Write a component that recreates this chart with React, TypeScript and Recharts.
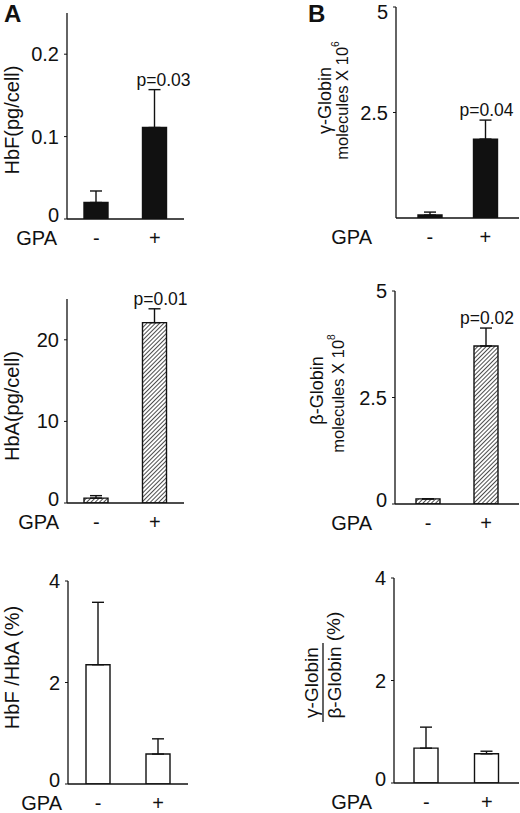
import React from "react";
import { BarChart, Bar, XAxis, YAxis, ErrorBar, LabelList } from "recharts";

const FONT = '"Liberation Sans", Arial, Helvetica, sans-serif';
const INK = "#111";

// categories
const GPA = ["-", "+"];

// A: protein per cell
const HBF_PG = [0.02, 0.111];
const HBF_PG_ERR = [0.014, 0.046];
const HBA_PG = [0.6, 22.1];
const HBA_PG_ERR = [0.3, 1.7];
const HBF_HBA_PCT = [2.35, 0.59];
const HBF_HBA_PCT_ERR = [1.23, 0.3];

// B: globin mRNA molecules
const GAMMA_MOL = [0.07, 1.87];
const GAMMA_MOL_ERR = [0.07, 0.45];
const BETA_MOL = [0.12, 3.71];
const BETA_MOL_ERR = [0, 0.42];
const GAMMA_BETA_PCT = [0.68, 0.57];
const GAMMA_BETA_PCT_ERR = [0.41, 0.05];

const P_HBF = [null, "p=0.03"];
const P_HBA = [null, "p=0.01"];
const P_GAMMA = [null, "p=0.04"];
const P_BETA = [null, "p=0.02"];
const P_NONE = [null, null];

const TICKS_HBF = [0, 0.1, 0.2];
const TICKS_HBA = [0, 10, 20];
const TICKS_PCT = [0, 2, 4];
const TICKS_GAMMA = [2.5, 5];
const TICKS_BETA = [0, 2.5, 5];

const XH = 40; // x axis height

type LabelLine = { text: string; sup?: string; ax: number; dy: number; size: number };

type Panel = {
  left: number;
  plotL: number;
  plotR: number;
  plotT: number;
  plotB: number;
  mr: number;
  values: number[];
  errors: number[];
  pLabels: (string | null)[];
  domain: [number, number];
  ticks: number[];
  topDy: number;
  fill: string;
  pad: number;
  gpaOffset: number;
  pDx: number;
  yLabel: LabelLine[];
  rule?: { ax: number; dy: number; len: number };
};

const PANELS: Panel[] = [
  {
    left: 0, plotL: 67, plotR: 184, plotT: 13, plotB: 219, mr: 40,
    values: HBF_PG, errors: HBF_PG_ERR, pLabels: P_HBF,
    domain: [0, 0.25], ticks: TICKS_HBF, topDy: 0, fill: INK, pad: 0, gpaOffset: 10, pDx: 9,
    yLabel: [{ text: "HbF(pg/cell)", ax: 55, dy: 4, size: 20 }],
  },
  {
    left: 0, plotL: 67, plotR: 184, plotT: 299, plotB: 503, mr: 40,
    values: HBA_PG, errors: HBA_PG_ERR, pLabels: P_HBA,
    domain: [0, 25], ticks: TICKS_HBA, topDy: 0, fill: "url(#hatch)", pad: 0, gpaOffset: 8, pDx: 6,
    yLabel: [{ text: "HbA(pg/cell)", ax: 55, dy: 5, size: 20 }],
  },
  {
    left: 0, plotL: 68, plotR: 188, plotT: 581, plotB: 784, mr: 40,
    values: HBF_HBA_PCT, errors: HBF_HBA_PCT_ERR, pLabels: P_NONE,
    domain: [0, 4], ticks: TICKS_PCT, topDy: 0, fill: "#fff", pad: 0, gpaOffset: 6, pDx: 0,
    yLabel: [{ text: "HbF /HbA (%)", ax: 56, dy: -15, size: 20 }],
  },
  {
    left: 290, plotL: 396, plotR: 519, plotT: 7, plotB: 218, mr: 1,
    values: GAMMA_MOL, errors: GAMMA_MOL_ERR, pLabels: P_GAMMA,
    domain: [0, 5], ticks: TICKS_GAMMA, topDy: 5, fill: INK, pad: 6, gpaOffset: 24, pDx: 1,
    yLabel: [
      { text: "\u03b3-Globin", ax: 71, dy: -12, size: 18 },
      { text: "molecules X 10", sup: "6", ax: 54, dy: -12, size: 16.5 },
    ],
  },
  {
    left: 290, plotL: 395, plotR: 519, plotT: 291, plotB: 504, mr: 1,
    values: BETA_MOL, errors: BETA_MOL_ERR, pLabels: P_BETA,
    domain: [0, 5], ticks: TICKS_BETA, topDy: 0, fill: "url(#hatch)", pad: 4, gpaOffset: 23, pDx: 1,
    yLabel: [
      { text: "\u03b2-Globin", ax: 78, dy: -7, size: 18 },
      { text: "molecules X 10", sup: "8", ax: 57, dy: -4, size: 16.5 },
    ],
  },
  {
    left: 290, plotL: 394, plotR: 519, plotT: 578, plotB: 783, mr: 1,
    values: GAMMA_BETA_PCT, errors: GAMMA_BETA_PCT_ERR, pLabels: P_NONE,
    domain: [0, 4], ticks: TICKS_PCT, topDy: 0, fill: "#fff", pad: 2, gpaOffset: 22, pDx: 0,
    yLabel: [
      { text: "\u03b3-Globin", ax: 83, dy: 2, size: 19 },
      { text: "\u03b2-Globin", ax: 60, dy: 2, size: 19 },
      { text: "(%)", ax: 61, dy: -54, size: 19 },
    ],
    rule: { ax: 71, dy: 2, len: 79 },
  },
];

function YLabel(props: any, s: Panel) {
  const vb = props.viewBox;
  const axisX = vb.x + vb.width;
  const midY = vb.y + vb.height / 2;
  return (
    <g>
      {s.yLabel.map((l, i) => {
        const cx = axisX - l.ax;
        const cy = midY + l.dy;
        return (
          <text
            key={i}
            x={cx}
            y={cy}
            transform={`rotate(-90, ${cx}, ${cy})`}
            textAnchor="middle"
            dominantBaseline="central"
            fontSize={l.size}
            fontFamily={FONT}
            fill={INK}
          >
            {l.text}
            {l.sup && (
              <tspan fontSize={l.size * 0.62} dy={-l.size * 0.45}>
                {l.sup}
              </tspan>
            )}
          </text>
        );
      })}
      {s.rule && (
        <line
          x1={axisX - s.rule.ax}
          x2={axisX - s.rule.ax}
          y1={midY + s.rule.dy - s.rule.len / 2}
          y2={midY + s.rule.dy + s.rule.len / 2}
          stroke={INK}
          strokeWidth={1.3}
        />
      )}
    </g>
  );
}

// y tick labels; the zero label sits a little above its tick, as in the figure
function makeYTick(s: Panel) {
  return (props: any) => {
    const { x, y, payload } = props;
    let dy = 0;
    if (payload.value === 0) dy = -4;
    if (payload.value === s.domain[1]) dy = s.topDy;
    return (
      <text
        x={x}
        y={y + dy}
        textAnchor="end"
        dominantBaseline="central"
        fontSize={20}
        fontFamily={FONT}
        fill={INK}
      >
        {payload.value}
      </text>
    );
  };
}

function PanelChart({ s }: { s: Panel }) {
  const data = GPA.map((g, i) => ({
    g,
    v: s.values[i],
    e: [0, s.errors[i]],
    p: s.pLabels[i],
  }));
  const mt = Math.min(12, s.plotT);
  const tickStyle = { fontSize: 20, fill: INK, fontFamily: FONT };
  const axisStyle = { stroke: INK, strokeWidth: 1.3 };

  const renderP = (props: any) => {
    const { index, value } = props;
    if (!value) return null;
    const vb = props.viewBox ?? props;
    const h = Math.abs(vb.height);
    const top = Math.min(vb.y, vb.y + vb.height);
    const errPx = (h * s.errors[index]) / s.values[index];
    return (
      <text
        x={vb.x + vb.width / 2 + s.pDx}
        y={top - errPx - 4}
        textAnchor="middle"
        fontSize={17.5}
        fontFamily={FONT}
        fill={INK}
      >
        {value}
      </text>
    );
  };

  return (
    <div style={{ position: "absolute", left: s.left, top: s.plotT - mt }}>
      <BarChart
        width={s.plotR - s.left + s.mr}
        height={s.plotB - s.plotT + mt + XH}
        data={data}
        margin={{ top: mt, right: s.mr, bottom: 0, left: 0 }}
        barCategoryGap={0}
      >
        <XAxis
          dataKey="g"
          axisLine={axisStyle}
          tickLine={false}
          tickSize={0}
          tickMargin={12}
          height={XH}
          interval={0}
          padding={{ left: s.pad, right: s.pad }}
          tick={tickStyle}
          label={(p: any) => (
            <text
              x={p.viewBox.x - s.gpaOffset}
              y={p.viewBox.y + 19}
              textAnchor="end"
              dominantBaseline="central"
              fontSize={20}
              fontFamily={FONT}
              fill={INK}
            >
              GPA
            </text>
          )}
        />
        <YAxis
          type="number"
          domain={s.domain}
          ticks={s.ticks}
          interval={0}
          allowDataOverflow
          width={s.plotL - s.left}
          axisLine={axisStyle}
          tickLine={{ stroke: INK, strokeWidth: 1 }}
          tickSize={3}
          tickMargin={5}
          tick={makeYTick(s)}
          label={(p: any) => YLabel(p, s)}
        />
        <Bar
          dataKey="v"
          barSize={24}
          fill={s.fill}
          stroke={INK}
          strokeWidth={1.4}
          isAnimationActive={false}
        >
          <ErrorBar dataKey="e" width={6} stroke={INK} strokeWidth={1.4} direction="y" />
          <LabelList dataKey="p" content={renderP} />
        </Bar>
      </BarChart>
    </div>
  );
}

export default function App() {
  return (
    <div
      style={{
        position: "absolute",
        left: 0,
        top: 0,
        width: 520,
        height: 813,
        overflow: "hidden",
        background: "#fff",
        fontFamily: FONT,
      }}
    >
      <svg width={0} height={0} style={{ position: "absolute" }}>
        <defs>
          <pattern
            id="hatch"
            patternUnits="userSpaceOnUse"
            width={3}
            height={3}
            patternTransform="rotate(45)"
          >
            <rect width={3} height={3} fill="#fff" />
            <line x1={0} y1={0} x2={0} y2={3} stroke={INK} strokeWidth={1.5} />
          </pattern>
        </defs>
      </svg>
      {PANELS.map((s, i) => (
        <PanelChart key={i} s={s} />
      ))}
      <div style={{ position: "absolute", left: 4, top: 2, fontSize: 24, fontWeight: 700, lineHeight: 1, color: INK }}>
        A
      </div>
      <div style={{ position: "absolute", left: 308, top: 2, fontSize: 24, fontWeight: 700, lineHeight: 1, color: INK }}>
        B
      </div>
    </div>
  );
}
